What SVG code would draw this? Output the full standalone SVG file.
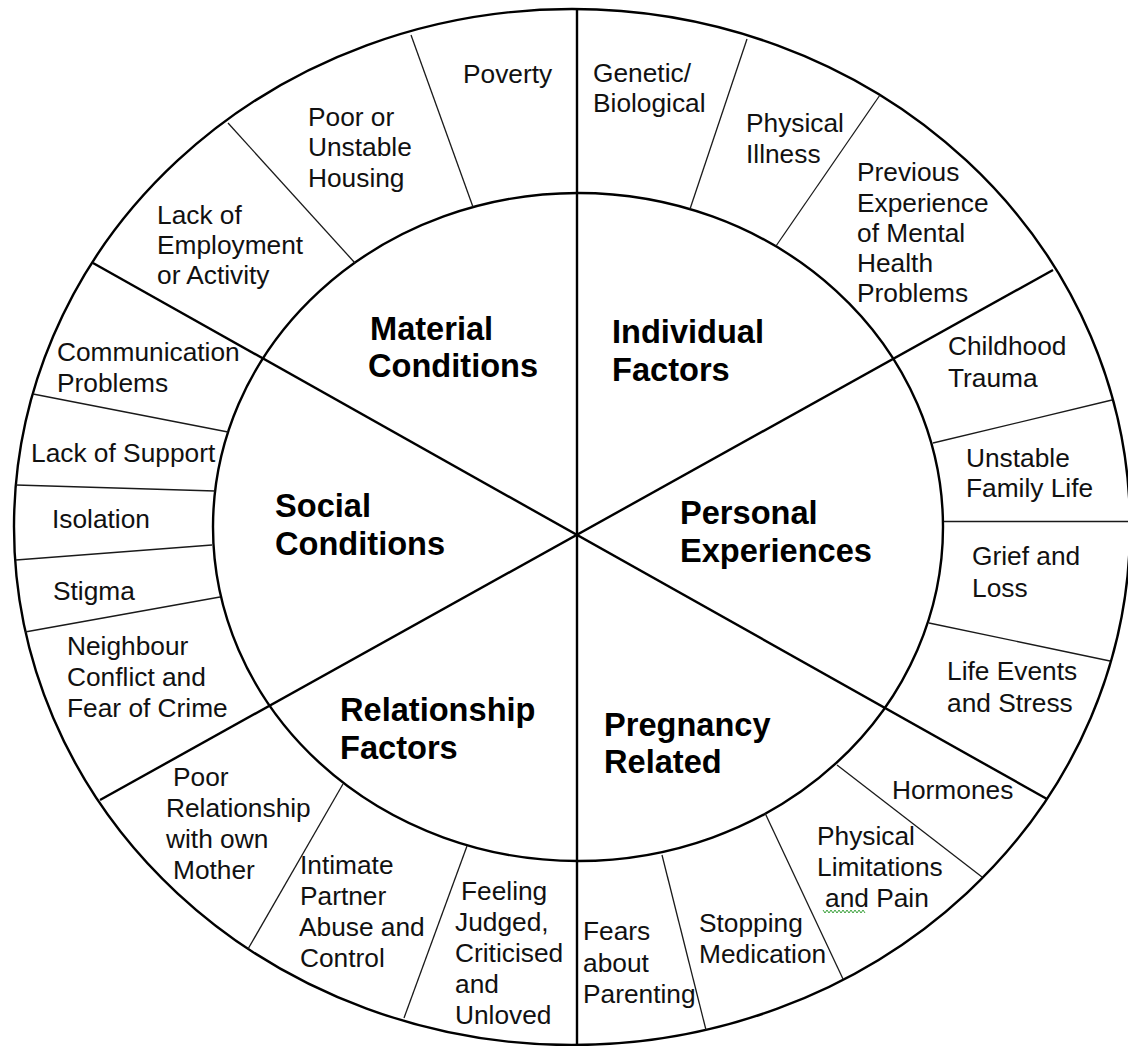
<svg xmlns="http://www.w3.org/2000/svg" width="1128" height="1046" viewBox="0 0 1128 1046">
  <style>
    .ring { fill: none; stroke: #000; stroke-width: 2.4; }
    .spoke { stroke: #000; stroke-width: 2.4; }
    .div { stroke: #1a1a1a; stroke-width: 1.3; }
    .t { font-family: "Liberation Sans", Arial, sans-serif; font-size: 26.3px; fill: #111; }
    .h { font-family: "Liberation Sans", Arial, sans-serif; font-size: 32.6px; font-weight: bold; fill: #000; }
  </style>
  <rect width="1128" height="1046" fill="#fff"/>

  <!-- wheel outline -->
  <g id="wheel">
    <ellipse class="ring" cx="572" cy="527" rx="558" ry="518"/>
    <ellipse class="ring" cx="578" cy="527" rx="365" ry="334"/>
  </g>

  <!-- connectors: main spokes and the thin dividers of the outer ring -->
  <g id="connectors">
    <line class="spoke" x1="577" y1="9" x2="577" y2="1046"/>
    <line class="spoke" x1="93" y1="263" x2="1047" y2="799"/>
    <line class="spoke" x1="1053" y1="270" x2="100" y2="800"/>

    <!-- material conditions -->
    <line class="div" x1="411" y1="35" x2="473" y2="207"/>
    <line class="div" x1="228" y1="123" x2="355" y2="263"/>
    <!-- individual factors -->
    <line class="div" x1="747" y1="39" x2="690" y2="209"/>
    <line class="div" x1="880" y1="95" x2="776" y2="246"/>
    <!-- personal experiences -->
    <line class="div" x1="1112" y1="400" x2="933" y2="443"/>
    <line class="div" x1="944" y1="521.5" x2="1128" y2="521.5"/>
    <line class="div" x1="929" y1="623" x2="1110" y2="661"/>
    <!-- pregnancy related -->
    <line class="div" x1="837" y1="765" x2="982" y2="877"/>
    <line class="div" x1="765" y1="813" x2="843" y2="979"/>
    <line class="div" x1="662" y1="855" x2="706" y2="1030"/>
    <!-- relationship factors -->
    <line class="div" x1="467" y1="846" x2="404" y2="1018"/>
    <line class="div" x1="343" y1="784" x2="248" y2="949"/>
    <!-- social conditions -->
    <line class="div" x1="33" y1="394" x2="228" y2="432"/>
    <line class="div" x1="16" y1="485" x2="215" y2="491"/>
    <line class="div" x1="16" y1="560" x2="212" y2="545"/>
    <line class="div" x1="25" y1="632" x2="220" y2="597"/>
  </g>

  <!-- inner categories -->
  <g id="material-conditions">
    <text class="h" x="370" y="340">Material</text>
    <text class="h" x="368" y="377">Conditions</text>
  </g>
  <g id="individual-factors">
    <text class="h" x="612" y="343">Individual</text>
    <text class="h" x="612" y="381">Factors</text>
  </g>
  <g id="personal-experiences">
    <text class="h" x="680" y="524">Personal</text>
    <text class="h" x="680" y="562">Experiences</text>
  </g>
  <g id="pregnancy-related">
    <text class="h" x="604" y="736">Pregnancy</text>
    <text class="h" x="604" y="773">Related</text>
  </g>
  <g id="relationship-factors">
    <text class="h" x="340" y="721">Relationship</text>
    <text class="h" x="340" y="759">Factors</text>
  </g>
  <g id="social-conditions">
    <text class="h" x="275" y="517">Social</text>
    <text class="h" x="275" y="555">Conditions</text>
  </g>

  <!-- outer ring factors -->
  <g id="poverty"><text class="t" x="463" y="83">Poverty</text></g>
  <g id="housing">
    <text class="t" x="308" y="126">Poor or</text>
    <text class="t" x="308" y="156">Unstable</text>
    <text class="t" x="308" y="187">Housing</text>
  </g>
  <g id="employment">
    <text class="t" x="157" y="224">Lack of</text>
    <text class="t" x="157" y="254">Employment</text>
    <text class="t" x="157" y="284">or Activity</text>
  </g>
  <g id="genetic">
    <text class="t" x="593" y="82">Genetic/</text>
    <text class="t" x="593" y="112">Biological</text>
  </g>
  <g id="physical-illness">
    <text class="t" x="746" y="132">Physical</text>
    <text class="t" x="746" y="163">Illness</text>
  </g>
  <g id="previous-experience">
    <text class="t" x="857" y="181">Previous</text>
    <text class="t" x="857" y="212">Experience</text>
    <text class="t" x="857" y="242">of Mental</text>
    <text class="t" x="857" y="272">Health</text>
    <text class="t" x="857" y="302">Problems</text>
  </g>
  <g id="childhood-trauma">
    <text class="t" x="948" y="355">Childhood</text>
    <text class="t" x="948" y="387">Trauma</text>
  </g>
  <g id="family-life">
    <text class="t" x="966" y="467">Unstable</text>
    <text class="t" x="966" y="497">Family Life</text>
  </g>
  <g id="grief">
    <text class="t" x="972" y="565">Grief and</text>
    <text class="t" x="972" y="597">Loss</text>
  </g>
  <g id="life-events">
    <text class="t" x="947" y="680">Life Events</text>
    <text class="t" x="947" y="712">and Stress</text>
  </g>
  <g id="hormones"><text class="t" x="892" y="799">Hormones</text></g>
  <g id="physical-limitations">
    <text class="t" x="817" y="845">Physical</text>
    <text class="t" x="817" y="876">Limitations</text>
    <text class="t" x="825" y="907">and Pain</text>
    <polyline points="823,910 825,913 827,910 829,913 831,910 833,913 835,910 837,913 839,910 841,913 843,910 845,913 847,910 849,913 851,910 853,913 855,910 857,913 859,910 861,913 863,910 865,913" fill="none" stroke="#3fa33f" stroke-width="1"/>
  </g>
  <g id="stopping-medication">
    <text class="t" x="699" y="932">Stopping</text>
    <text class="t" x="699" y="963">Medication</text>
  </g>
  <g id="fears-parenting">
    <text class="t" x="583" y="940">Fears</text>
    <text class="t" x="583" y="972">about</text>
    <text class="t" x="583" y="1003">Parenting</text>
  </g>
  <g id="feeling-judged">
    <text class="t" x="461" y="900">Feeling</text>
    <text class="t" x="455" y="931">Judged,</text>
    <text class="t" x="455" y="962">Criticised</text>
    <text class="t" x="455" y="993">and</text>
    <text class="t" x="455" y="1024">Unloved</text>
  </g>
  <g id="partner-abuse">
    <text class="t" x="300" y="874">Intimate</text>
    <text class="t" x="300" y="905">Partner</text>
    <text class="t" x="299" y="936">Abuse and</text>
    <text class="t" x="300" y="967">Control</text>
  </g>
  <g id="mother-relationship">
    <text class="t" x="173" y="786">Poor</text>
    <text class="t" x="166" y="817">Relationship</text>
    <text class="t" x="166" y="848">with own</text>
    <text class="t" x="173" y="879">Mother</text>
  </g>
  <g id="neighbour-conflict">
    <text class="t" x="67" y="655">Neighbour</text>
    <text class="t" x="67" y="686">Conflict and</text>
    <text class="t" x="67" y="717">Fear of Crime</text>
  </g>
  <g id="stigma"><text class="t" x="53" y="600">Stigma</text></g>
  <g id="isolation"><text class="t" x="52" y="528">Isolation</text></g>
  <g id="lack-of-support"><text class="t" x="31" y="462">Lack of Support</text></g>
  <g id="communication">
    <text class="t" x="57" y="361">Communication</text>
    <text class="t" x="57" y="392">Problems</text>
  </g>
</svg>
